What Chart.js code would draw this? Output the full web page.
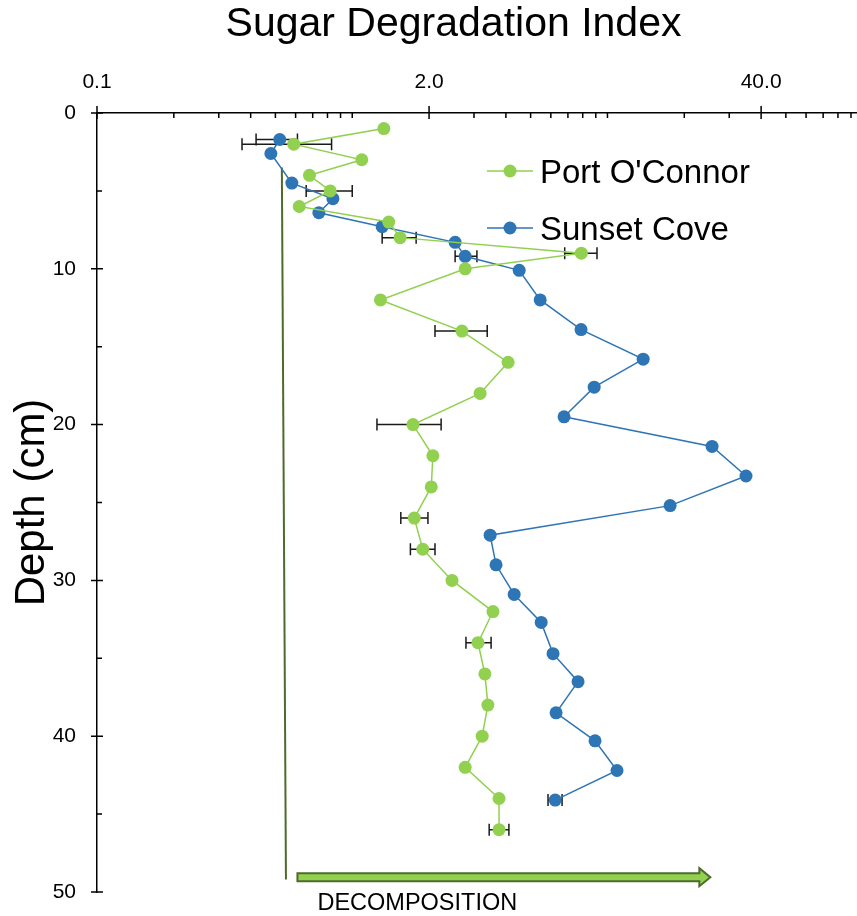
<!DOCTYPE html>
<html>
<head>
<meta charset="utf-8">
<title>Sugar Degradation Index</title>
<script src="https://cdn.jsdelivr.net/npm/chart.js@4.4.0/dist/chart.umd.min.js"></script>
<style>
  body { margin: 0; background: #fff; }
  canvas { display: block; }
</style>
</head>
<body>
<canvas id="grafico" width="857" height="916"></canvas>
<script>
// Port O'Connor
var profundidadPort = [1, 2, 3, 4, 5, 6, 7, 8, 9, 10, 12, 14, 16, 18, 20, 22, 24, 26, 28, 30, 32, 34, 36, 38, 40, 42, 44, 46];
var indicePort = [1.33, 0.59, 1.09, 0.68, 0.82, 0.62, 1.39, 1.54, 7.9, 2.77, 1.29, 2.69, 4.08, 3.17, 1.73, 2.07, 2.04, 1.75, 1.89, 2.46, 3.56, 3.11, 3.31, 3.4, 3.23, 2.77, 3.76, 3.76];
var errorBajoPort = [null, 0.37, null, null, 0.66, null, null, 1.31, 6.8, null, null, 2.11, null, null, 1.25, null, null, 1.55, 1.69, null, null, 2.79, null, null, null, null, null, 3.44];
var errorAltoPort = [null, 0.83, null, null, 1.0, null, null, 1.78, 9.1, null, null, 3.38, null, null, 2.23, null, null, 1.98, 2.11, null, null, 3.5, null, null, null, null, null, 4.11];

// Sunset Cove
var profundidadSunset = [1.7, 2.6, 4.5, 5.5, 6.4, 7.3, 8.3, 9.2, 10.1, 12.0, 13.9, 15.8, 17.6, 19.5, 21.4, 23.3, 25.2, 27.1, 29.0, 30.9, 32.7, 34.7, 36.5, 38.5, 40.3, 42.2, 44.1];
var indiceSunset = [0.52, 0.48, 0.58, 0.84, 0.74, 1.31, 2.53, 2.77, 4.51, 5.45, 7.88, 13.8, 8.87, 6.76, 25.7, 34.9, 17.6, 3.47, 3.66, 4.31, 5.5, 6.12, 7.67, 6.29, 8.94, 10.9, 6.24];
var errorBajoSunset = [0.42, null, null, null, null, null, null, 2.53, null, null, null, null, null, null, null, null, null, null, null, null, null, null, null, null, null, null, 5.85];
var errorAltoSunset = [0.61, null, null, null, null, null, null, 3.08, null, null, null, null, null, null, null, null, null, null, null, null, null, null, null, null, null, null, 6.64];

// linea vertical de referencia
var guiaIndice = [0.53, 0.55];
var guiaProfundidad = [3.5, 49.2];

// ticks del eje X (log)
var ticksMayoresX = [0.1, 2, 40];
var ticksX = [0.1, 0.2, 0.3, 0.4, 0.5, 0.6, 0.7, 0.8, 0.9, 1, 2, 3, 4, 5, 6, 7, 8, 9, 10, 20, 30, 40, 50, 60, 70, 80, 90];
var ticksMenoresY = [5, 15, 25, 35, 45];

// flecha de descomposicion
var flechaDesde = 0.61;
var flechaHasta = 25.3;
var flechaProfundidad = 49.05;

var verde = "#92d050";
var azul = "#2e75b6";
var verdeOscuro = "#4f6b2c";

Chart.defaults.font.family = "'Liberation Sans', Arial, sans-serif";
Chart.defaults.color = "#000";

function puntos(xs, ys) {
  return xs.map((v, i) => ({ x: v, y: ys[i] }));
}

// marcas de los ejes (cruzan el eje en los mayores)
const marcasEjes = {
  id: "marcasEjes",
  beforeDatasetsDraw(chart) {
    const { ctx, scales: { x, y } } = chart;
    ctx.save();
    ctx.strokeStyle = "#000";
    ctx.lineWidth = 1.5;
    ctx.beginPath();
    ticksX.forEach((v) => {
      const px = x.getPixelForValue(v);
      if (ticksMayoresX.includes(v)) {
        ctx.moveTo(px, y.top - 7);
        ctx.lineTo(px, y.top + 6);
      } else {
        ctx.moveTo(px, y.top);
        ctx.lineTo(px, y.top + 5);
      }
    });
    y.ticks.forEach((t) => {
      const py = y.getPixelForValue(t.value);
      ctx.moveTo(x.left - 6, py);
      ctx.lineTo(x.left + 6, py);
    });
    ticksMenoresY.forEach((v) => {
      const py = y.getPixelForValue(v);
      ctx.moveTo(x.left, py);
      ctx.lineTo(x.left + 5, py);
    });
    ctx.stroke();
    ctx.restore();
  },
};

// barras de error horizontales
const barrasError = {
  id: "barrasError",
  beforeDatasetsDraw(chart) {
    const { ctx, scales: { x, y } } = chart;
    const series = [
      [profundidadPort, errorBajoPort, errorAltoPort],
      [profundidadSunset, errorBajoSunset, errorAltoSunset],
    ];
    ctx.save();
    ctx.strokeStyle = "#1a1a1a";
    ctx.lineWidth = 1.5;
    series.forEach(([prof, bajo, alto]) => {
      prof.forEach((p, i) => {
        if (bajo[i] == null) return;
        const py = y.getPixelForValue(p);
        const x1 = x.getPixelForValue(bajo[i]);
        const x2 = x.getPixelForValue(alto[i]);
        ctx.beginPath();
        ctx.moveTo(x1, py);
        ctx.lineTo(x2, py);
        ctx.moveTo(x1, py - 6);
        ctx.lineTo(x1, py + 6);
        ctx.moveTo(x2, py - 6);
        ctx.lineTo(x2, py + 6);
        ctx.stroke();
      });
    });
    ctx.restore();
  },
};

// leyenda dentro del grafico
const leyenda = {
  id: "leyenda",
  afterDatasetsDraw(chart) {
    const { ctx } = chart;
    const filas = [
      { texto: "Port O'Connor", color: verde, y: 171 },
      { texto: "Sunset Cove", color: azul, y: 228 },
    ];
    ctx.save();
    ctx.font = "33px 'Liberation Sans', Arial, sans-serif";
    ctx.textBaseline = "alphabetic";
    ctx.textAlign = "left";
    filas.forEach((f) => {
      ctx.strokeStyle = f.color;
      ctx.lineWidth = 1.5;
      ctx.beginPath();
      ctx.moveTo(487, f.y);
      ctx.lineTo(533, f.y);
      ctx.stroke();
      ctx.fillStyle = f.color;
      ctx.beginPath();
      ctx.arc(510, f.y, 6.5, 0, Math.PI * 2);
      ctx.fill();
      ctx.fillStyle = "#000";
      ctx.fillText(f.texto, 540, f.y + 12);
    });
    ctx.restore();
  },
};

// flecha "DECOMPOSITION"
const flecha = {
  id: "flecha",
  afterDatasetsDraw(chart) {
    const { ctx, scales: { x, y } } = chart;
    const x1 = x.getPixelForValue(flechaDesde);
    const x2 = x.getPixelForValue(flechaHasta);
    const py = y.getPixelForValue(flechaProfundidad);
    ctx.save();
    ctx.fillStyle = verde;
    ctx.strokeStyle = verdeOscuro;
    ctx.lineWidth = 2;
    ctx.beginPath();
    ctx.moveTo(x1, py - 4);
    ctx.lineTo(x2 - 11, py - 4);
    ctx.lineTo(x2 - 11, py - 9);
    ctx.lineTo(x2, py);
    ctx.lineTo(x2 - 11, py + 9);
    ctx.lineTo(x2 - 11, py + 4);
    ctx.lineTo(x1, py + 4);
    ctx.closePath();
    ctx.fill();
    ctx.stroke();
    ctx.fillStyle = "#000";
    ctx.font = "23.5px 'Liberation Sans', Arial, sans-serif";
    ctx.textBaseline = "alphabetic";
    ctx.fillText("DECOMPOSITION", x1 + 20, 910);
    ctx.restore();
  },
};

new Chart(document.getElementById("grafico"), {
  type: "scatter",
  data: {
    datasets: [
      {
        label: "Port O'Connor",
        data: puntos(indicePort, profundidadPort),
        showLine: true,
        borderColor: verde,
        backgroundColor: verde,
        borderWidth: 1.5,
        pointRadius: 6.5,
        pointBorderWidth: 0,
      },
      {
        label: "Sunset Cove",
        data: puntos(indiceSunset, profundidadSunset),
        showLine: true,
        borderColor: azul,
        backgroundColor: azul,
        borderWidth: 1.5,
        pointRadius: 6.5,
        pointBorderWidth: 0,
      },
      {
        label: "guia",
        data: puntos(guiaIndice, guiaProfundidad),
        showLine: true,
        borderColor: verdeOscuro,
        borderWidth: 2,
        pointRadius: 0,
      },
    ],
  },
  options: {
    responsive: false,
    animation: false,
    devicePixelRatio: 1,
    layout: { autoPadding: false, padding: { left: 0, top: 0, right: -50, bottom: 24 } },
    plugins: {
      legend: { display: false },
      tooltip: { enabled: false },
      title: {
        display: true,
        text: "Sugar Degradation Index",
        font: { size: 41, weight: "normal" },
        color: "#000",
        padding: { top: 0, bottom: 0 },
      },
    },
    scales: {
      x: {
        type: "logarithmic",
        position: "top",
        min: 0.1,
        max: 95,
        afterBuildTicks: (scale) => {
          scale.ticks = ticksX.map((v) => ({ value: v }));
        },
        afterFit: (scale) => {
          scale.height = 63.8;
          scale.paddingLeft = 0;
          scale.paddingRight = 0;
        },
        ticks: {
          autoSkip: false,
          maxRotation: 0,
          padding: 18,
          font: { size: 21 },
          callback: (value) => (ticksMayoresX.includes(value) ? value.toFixed(1) : ""),
        },
        grid: { display: false, drawTicks: false },
        border: { display: true, color: "#000", width: 1.5 },
      },
      y: {
        type: "linear",
        reverse: true,
        min: 0,
        max: 50,
        afterFit: (scale) => {
          scale.width = 97;
          scale.paddingTop = 0;
          scale.paddingBottom = 0;
        },
        ticks: { stepSize: 10, padding: 21, font: { size: 21 } },
        grid: { display: false, drawTicks: false },
        border: { display: true, color: "#000", width: 1.5 },
        title: {
          display: true,
          text: "Depth (cm)",
          font: { size: 42 },
          color: "#000",
          padding: { top: 7, bottom: 0 },
        },
      },
    },
  },
  plugins: [marcasEjes, barrasError, leyenda, flecha],
});
</script>
</body>
</html>
